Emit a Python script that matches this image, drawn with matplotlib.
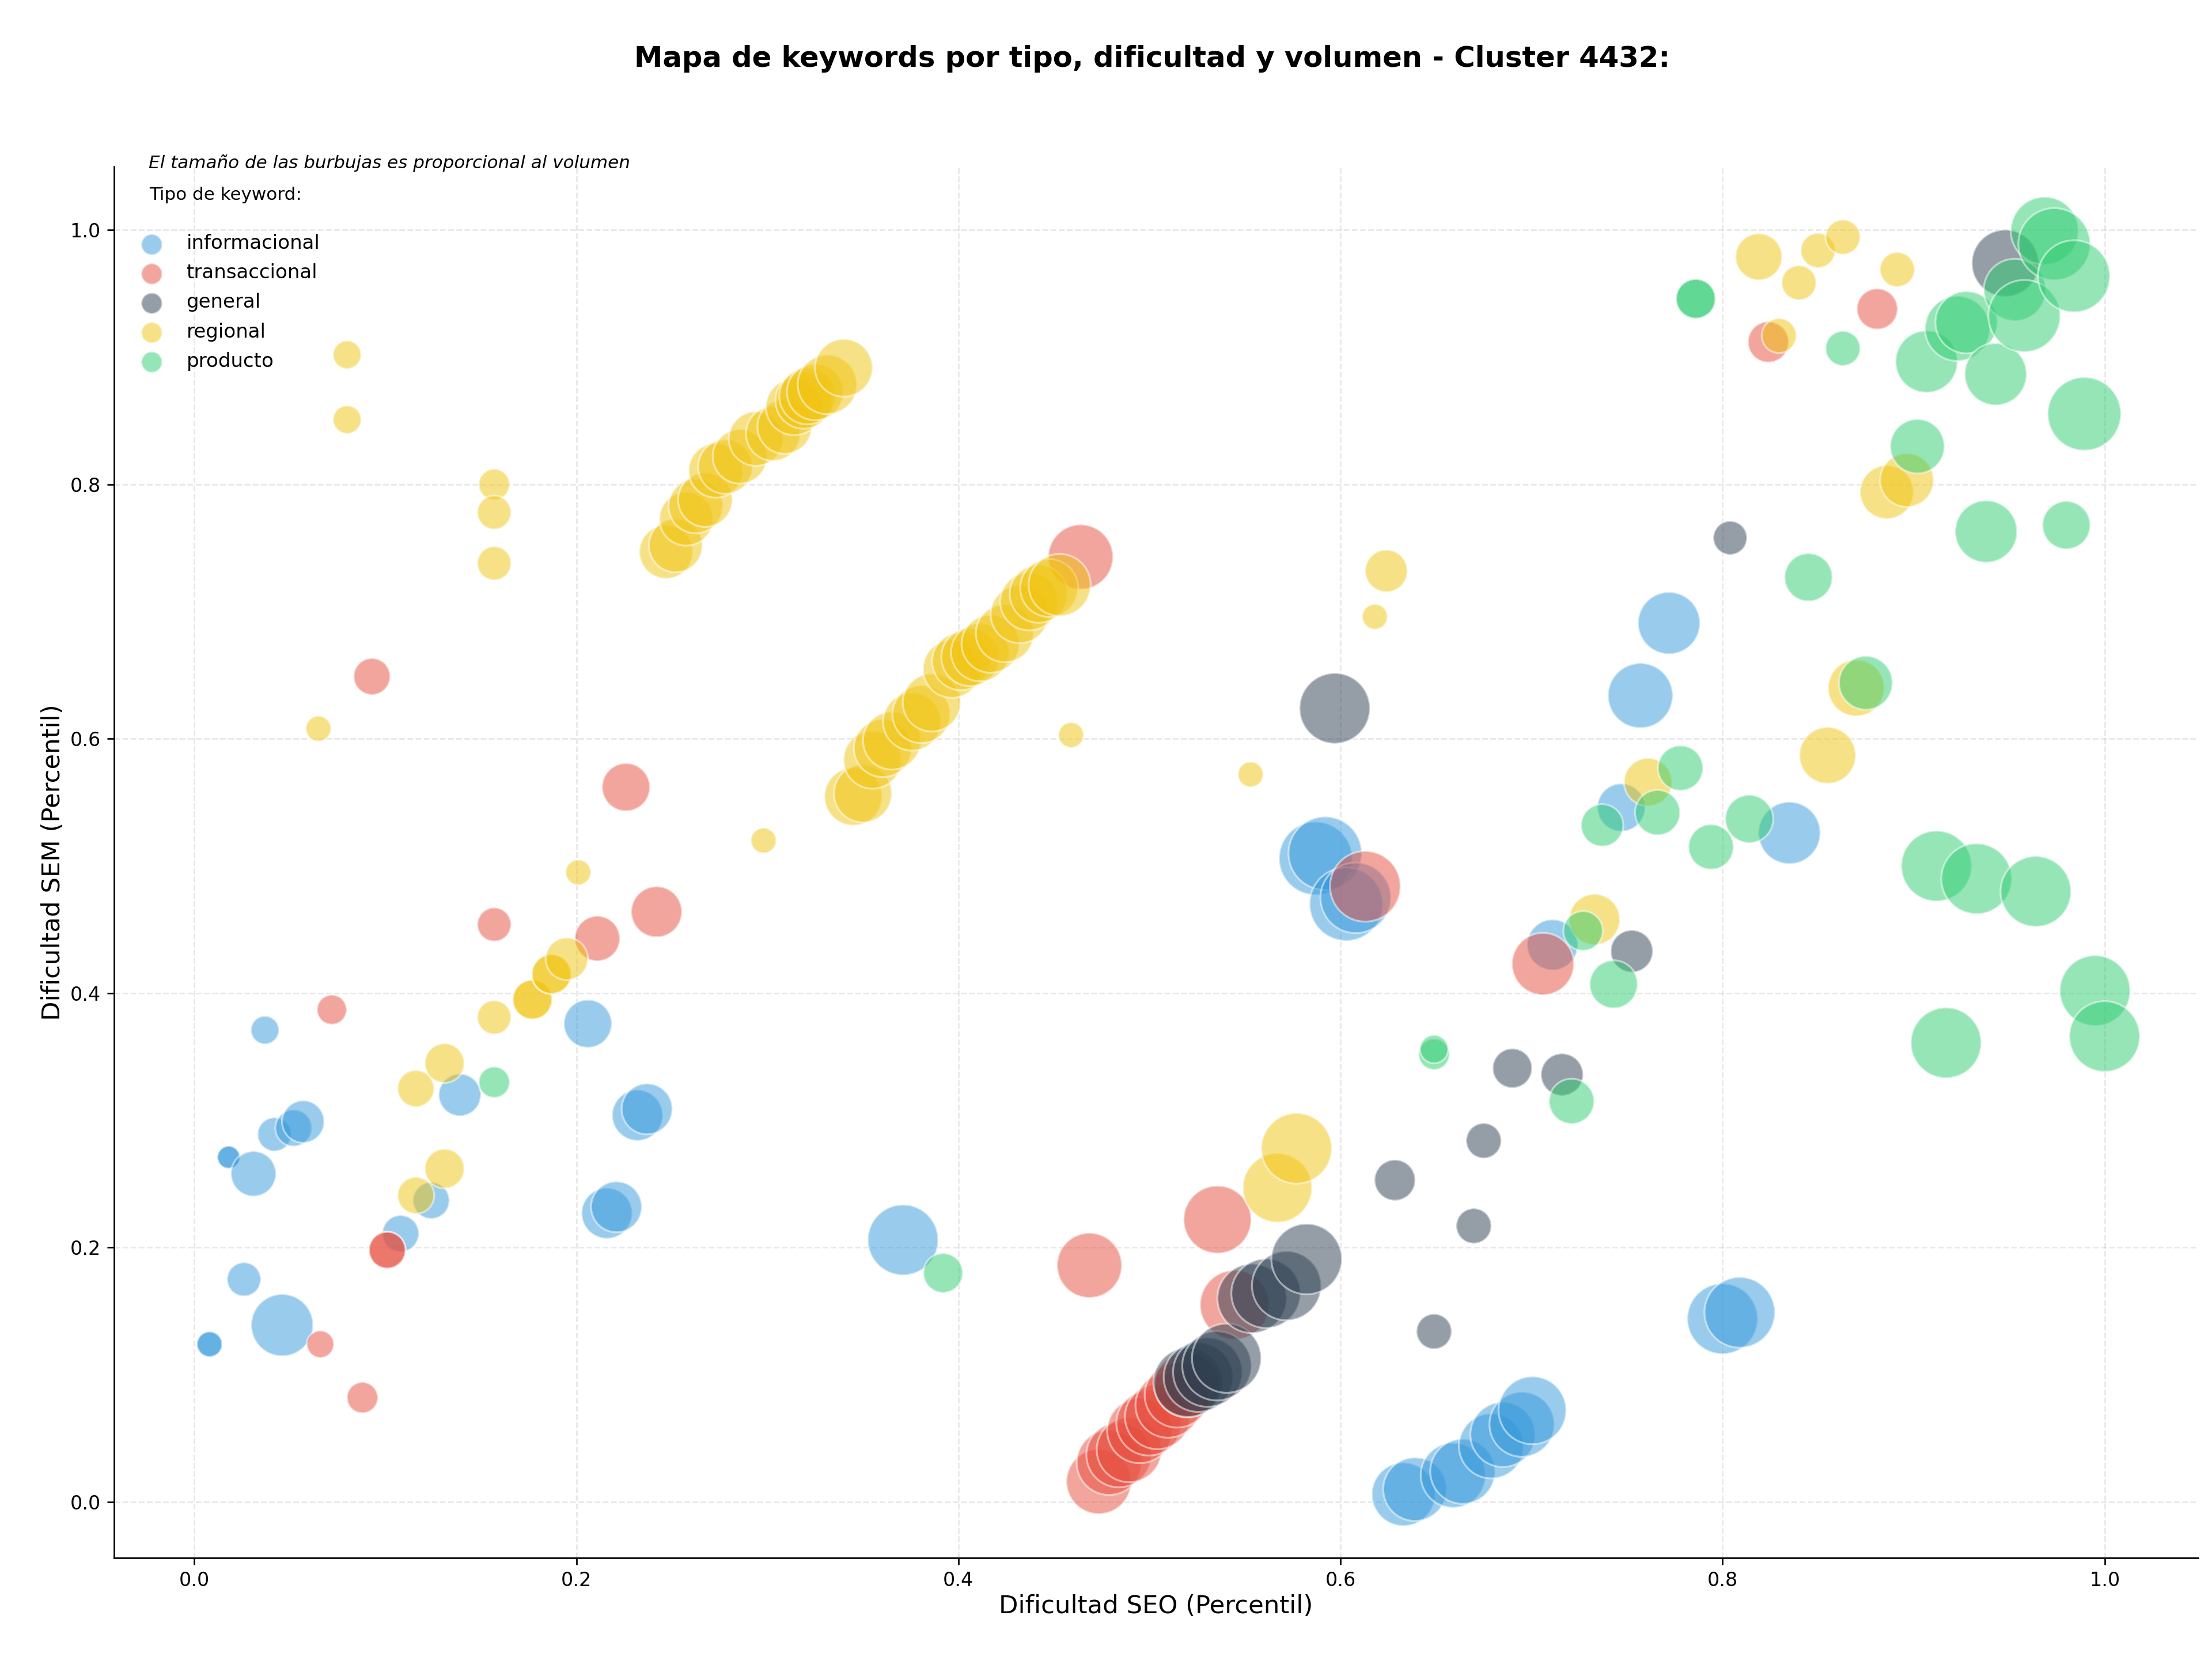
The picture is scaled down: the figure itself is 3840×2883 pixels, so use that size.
import matplotlib
matplotlib.use("Agg")
import matplotlib.pyplot as plt

# Each keyword: SEO percentile, SEM percentile, bubble area (scaled volume)
info_x = [0.008, 0.008, 0.018, 0.018, 0.037, 0.042, 0.052, 0.057, 0.031, 0.026, 0.046, 0.108, 0.124, 0.139, 0.206,
          0.216, 0.221, 0.232, 0.237, 0.371, 0.587, 0.592, 0.603, 0.608, 0.711, 0.747, 0.757, 0.772, 0.835, 0.800,
          0.809, 0.633, 0.639, 0.659, 0.664, 0.679, 0.685, 0.695, 0.7005]
info_y = [0.124, 0.124, 0.271, 0.271, 0.371, 0.289, 0.294, 0.299, 0.258, 0.175, 0.139, 0.211, 0.237, 0.320, 0.376,
          0.227, 0.232, 0.304, 0.309, 0.206, 0.506, 0.510, 0.470, 0.475, 0.438, 0.546, 0.634, 0.691, 0.526, 0.144,
          0.149, 0.006, 0.010, 0.021, 0.024, 0.044, 0.053, 0.061, 0.072]
info_s = [175, 175, 140, 140, 216, 311, 365, 486, 553, 311, 1045, 365, 365, 486, 624,
          700, 700, 700, 700, 1350, 1460, 1460, 1460, 1350, 700, 624, 1143, 1045, 1045, 1350,
          1350, 1093, 1093, 1143, 1143, 1143, 1143, 1143, 1244]

trans_x = [0.066, 0.088, 0.072, 0.093, 0.101, 0.101, 0.157, 0.211, 0.226, 0.242, 0.464, 0.4686, 0.5356, 0.5446, 0.613,
           0.706, 0.824, 0.881, 0.4735, 0.4789, 0.484, 0.4894, 0.4949, 0.4997, 0.5042, 0.5097, 0.5145, 0.5196]
trans_y = [0.124, 0.082, 0.387, 0.649, 0.198, 0.198, 0.454, 0.443, 0.562, 0.464, 0.743, 0.186, 0.222, 0.155, 0.484,
           0.423, 0.912, 0.938, 0.016, 0.031, 0.037, 0.041, 0.056, 0.062, 0.067, 0.076, 0.084, 0.092]
trans_s = [200, 261, 240, 365, 365, 365, 311, 553, 624, 700, 1143, 1143, 1244, 1300, 1350,
           1045, 454, 454, 1143, 1143, 1143, 1143, 1143, 1143, 1143, 1143, 1143, 1143]

gen_x = [0.5202, 0.5256, 0.5305, 0.5353, 0.5404, 0.5537, 0.561, 0.5718, 0.5823, 0.597, 0.6285, 0.649, 0.6698, 0.675, 0.690,
         0.716, 0.7525, 0.804, 0.948]
gen_y = [0.094, 0.098, 0.102, 0.107, 0.113, 0.160, 0.164, 0.170, 0.191, 0.624, 0.253, 0.134, 0.217, 0.284, 0.341,
         0.336, 0.433, 0.758, 0.974]
gen_s = [1300, 1300, 1300, 1300, 1300, 1300, 1300, 1300, 1350, 1350, 454, 337, 337, 337, 423,
         486, 486, 311, 1218]

reg_x = [0.247, 0.252, 0.2575, 0.2625, 0.2675, 0.273, 0.278, 0.2856, 0.294, 0.303, 0.309, 0.314, 0.319, 0.321, 0.325,
         0.3314, 0.340, 0.345, 0.350, 0.355, 0.3604, 0.3652, 0.3757, 0.3806, 0.386, 0.3966, 0.4014, 0.4062, 0.4113,
         0.4168, 0.4243, 0.432, 0.437, 0.442, 0.4475, 0.453, 0.065, 0.080, 0.080, 0.157, 0.157,
         0.157, 0.116, 0.131, 0.131, 0.116, 0.157, 0.177, 0.177, 0.187, 0.187, 0.195, 0.201, 0.298, 0.459, 0.553,
         0.567, 0.577, 0.618, 0.624, 0.733, 0.761, 0.819, 0.8296, 0.840, 0.850, 0.863, 0.8915, 0.855, 0.870, 0.886,
         0.8965]
reg_y = [0.747, 0.752, 0.773, 0.783, 0.788, 0.811, 0.814, 0.822, 0.836, 0.840, 0.8455, 0.861, 0.866, 0.8695, 0.8727,
         0.8786, 0.8917, 0.5546, 0.557, 0.5836, 0.5927, 0.5986, 0.6135, 0.6194, 0.6285, 0.655, 0.661, 0.6642, 0.668,
         0.6747, 0.683, 0.698, 0.708, 0.714, 0.7186, 0.721, 0.608, 0.902, 0.851, 0.800, 0.778,
         0.738, 0.325, 0.345, 0.262, 0.241, 0.381, 0.395, 0.395, 0.415, 0.415, 0.427, 0.495, 0.520, 0.603, 0.572,
         0.247, 0.278, 0.696, 0.732, 0.458, 0.566, 0.979, 0.917, 0.9586, 0.984, 0.9945, 0.969, 0.587, 0.640, 0.794,
         0.8034]
reg_s = [780, 780, 780, 800, 800, 800, 800, 800, 800, 800, 800, 864, 864, 864, 864,
         953, 900, 908, 908, 908, 908, 908, 908, 908, 908, 908, 908, 908, 908,
         908, 908, 908, 908, 908, 908, 1045, 175, 216, 216, 261, 311,
         311, 365, 423, 423, 365, 311, 423, 423, 423, 423, 486, 175, 175, 175, 175,
         1300, 1350, 175, 486, 700, 624, 590, 327, 327, 327, 327, 327, 864, 864, 780,
         780]

prod_x = [0.157, 0.392, 0.649, 0.649, 0.721, 0.727, 0.743, 0.737, 0.766, 0.778, 0.794, 0.814, 0.786, 0.786, 0.845,
          0.863, 0.875, 0.902, 0.9068, 0.912, 0.917, 0.923, 0.9277, 0.933, 0.938, 0.943, 0.953, 0.958, 0.964, 0.9686,
          0.9737, 0.984, 0.980, 0.9894, 0.995, 1.000]
prod_y = [0.330, 0.180, 0.352, 0.356, 0.315, 0.449, 0.407, 0.532, 0.542, 0.577, 0.515, 0.537, 0.946, 0.946, 0.727,
          0.907, 0.644, 0.830, 0.8966, 0.500, 0.361, 0.9226, 0.9275, 0.490, 0.763, 0.8867, 0.953, 0.9325, 0.480, 0.9995,
          0.989, 0.9637, 0.768, 0.8555, 0.402, 0.366]
prod_s = [261, 423, 261, 216, 553, 423, 624, 486, 553, 553, 553, 624, 423, 423, 624,
          327, 780, 800, 1045, 1350, 1350, 1143, 1045, 1350, 1045, 1045, 1045, 1404, 1350, 1244,
          1404, 1404, 624, 1460, 1350, 1350]

series = [
    ("informacional", "#3498db", info_x, info_y, info_s),
    ("transaccional", "#e74c3c", trans_x, trans_y, trans_s),
    ("general", "#2c3e50", gen_x, gen_y, gen_s),
    ("regional", "#f1c40f", reg_x, reg_y, reg_s),
    ("producto", "#2ecc71", prod_x, prod_y, prod_s),
]

fig = plt.figure(figsize=(16, 12.0125), dpi=240)
ax = fig.add_axes([198 / 3840, 1 - 2704 / 2883, (3816 - 198) / 3840, (2704 - 289) / 2883])

for name, color, xs, ys, sizes in series:
    ax.scatter(xs, ys, s=sizes, color=color, alpha=0.5, edgecolors="white", linewidths=1, label=name)

ax.set_xlim(-0.042, 1.049)
ax.set_ylim(-0.044, 1.05)
ax.grid(True, linestyle="--", alpha=0.3)
ax.set_axisbelow(True)
ax.spines["top"].set_visible(False)
ax.spines["right"].set_visible(False)
ax.set_xlabel("Dificultad SEO (Percentil)", fontsize=13, labelpad=2)
ax.set_ylabel("Dificultad SEM (Percentil)", fontsize=13, labelpad=2.5)
ax.set_title("Mapa de keywords por tipo, dificultad y volumen - Cluster 4432:",
             fontsize=14.9, fontweight="bold", pad=52, x=0.498)

leg = ax.legend(loc="upper left", bbox_to_anchor=(0.0047, 0.957), frameon=False, fontsize=10.2,
                labelspacing=0.53, handletextpad=0.79, borderpad=0.4, borderaxespad=0.0)
for handle in leg.legend_handles:
    handle.set_sizes([120])
ax.text(0.0165, 1.0026, "El tamaño de las burbujas es proporcional al volumen",
        transform=ax.transAxes, fontsize=9.3, fontstyle="italic", va="center", ha="left")
ax.text(0.017, 0.9796, "Tipo de keyword:", transform=ax.transAxes, fontsize=9.3, va="center", ha="left")

fig.savefig("out.png", dpi=240)
